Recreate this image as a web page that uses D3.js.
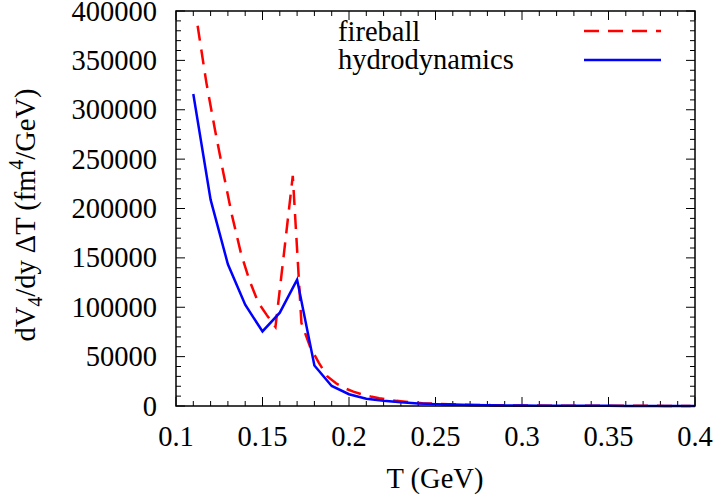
<!DOCTYPE html>
<html>
<head>
<meta charset="utf-8">
<script src="https://cdn.jsdelivr.net/npm/d3@7"></script>
<style>
body{margin:0;background:#fff}
text{font-family:"Liberation Serif","Times New Roman",serif;fill:#000}
</style>
</head>
<body>
<script>
// hydrodynamics: T every 0.01 GeV
var hydroT=[0.11,0.12,0.13,0.14,0.15,0.16,0.17,0.18,0.19,0.20,0.21,0.22,0.23,0.24,0.25,0.26,0.27,0.28,0.29,0.30,0.31,0.32,0.33,0.34,0.35,0.36,0.37,0.38,0.39,0.40]
var hydroV=[316000,209000,143500,102500,75500,94500,128000,41000,20300,11900,7400,5200,3700,2600,1900,1400,1050,800,600,460,360,280,220,180,150,120,100,85,70,60]

// fireball: T every 0.005 GeV
var fireT=[0.1125,0.1175,0.1225,0.1275,0.1325,0.1375,0.1425,0.1475,0.1525,0.1575,0.1625,0.1675,0.1725,0.1775,0.1825,0.1875,0.1925,0.1975,0.2025,0.2075,0.2125,0.2175,0.2225,0.2275,0.2325,0.2375,0.2425,0.2525,0.2625,0.2725,0.2825,0.2925,0.3025,0.3225,0.3425,0.3625,0.3825,0.3975]
var fireV=[385000,328000,280000,235000,192000,155000,127000,105000,92000,80000,156000,233000,84000,60000,44000,30000,23000,18000,14500,11800,9600,7800,6400,5200,4300,3500,2900,2100,1500,1100,850,650,500,320,220,160,120,100]

var xTicks=[0.1,0.15,0.2,0.25,0.3,0.35,0.4]
var yTicks=[0,50000,100000,150000,200000,250000,300000,350000,400000]

var W=719,H=496
var margin={top:11,right:24,bottom:90,left:176}
var w=W-margin.left-margin.right
var h=H-margin.top-margin.bottom
var fs=28.5

var svg=d3.select("body").append("svg")
  .attr("width",W).attr("height",H)
var g=svg.append("g").attr("transform","translate("+margin.left+","+margin.top+")")

var x=d3.scaleLinear().domain([0.1,0.4]).range([0,w])
var y=d3.scaleLinear().domain([0,400000]).range([h,0])

// minor + major ticks, drawn inward on all four sides
var xMinor=d3.range(0.1,0.4001,0.01)
var yMinor=d3.range(0,400001,10000)
var tk=g.append("g").attr("stroke","#000").attr("stroke-width",1)
xMinor.forEach(function(t){
  var major=Math.abs(Math.round(t*20)-t*20)<1e-6
  var len=major?9:5
  tk.append("line").attr("x1",x(t)).attr("x2",x(t)).attr("y1",h).attr("y2",h-len)
  tk.append("line").attr("x1",x(t)).attr("x2",x(t)).attr("y1",0).attr("y2",len)
})
yMinor.forEach(function(v){
  var len=(v%50000==0)?9:5
  tk.append("line").attr("x1",0).attr("x2",len).attr("y1",y(v)).attr("y2",y(v))
  tk.append("line").attr("x1",w).attr("x2",w-len).attr("y1",y(v)).attr("y2",y(v))
})

// tick labels
g.selectAll(".xl").data(xTicks).enter().append("text")
  .attr("x",function(d){return x(d)}).attr("y",h+40)
  .attr("text-anchor","middle").attr("font-size",fs)
  .text(function(d){return d})
g.selectAll(".yl").data(yTicks).enter().append("text")
  .attr("x",-19).attr("y",function(d){return y(d)+9.5})
  .attr("text-anchor","end").attr("font-size",fs)
  .text(function(d){return d})

// curves
var line=d3.line().x(function(d){return x(d[0])}).y(function(d){return y(d[1])})
g.append("path").datum(d3.zip(fireT,fireV))
  .attr("d",line).attr("fill","none").attr("stroke","#ff0000")
  .attr("stroke-width",2.5).attr("stroke-dasharray","15,9")
g.append("path").datum(d3.zip(hydroT,hydroV))
  .attr("d",line).attr("fill","none").attr("stroke","#0000ff")
  .attr("stroke-width",2.5)

// frame
g.append("rect").attr("width",w).attr("height",h)
  .attr("fill","none").attr("stroke","#000").attr("stroke-width",1.5)

// legend
var lg=svg.append("g")
lg.append("text").attr("x",338).attr("y",41).attr("font-size",fs).text("fireball")
lg.append("text").attr("x",338).attr("y",69).attr("font-size",fs).text("hydrodynamics")
lg.append("line").attr("x1",584).attr("x2",661).attr("y1",31).attr("y2",31)
  .attr("stroke","#ff0000").attr("stroke-width",2.5).attr("stroke-dasharray","15,9")
lg.append("line").attr("x1",584).attr("x2",661).attr("y1",60).attr("y2",60)
  .attr("stroke","#0000ff").attr("stroke-width",2.5)

// axis titles
svg.append("text").attr("x",435).attr("y",488).attr("text-anchor","middle")
  .attr("font-size",fs).text("T (GeV)")
var yt=svg.append("text").attr("transform","translate(35,215) rotate(-90)")
  .attr("text-anchor","middle").attr("font-size",fs)
yt.append("tspan").text("dV")
yt.append("tspan").attr("font-size",20).attr("dy",7).text("4")
yt.append("tspan").attr("dy",-7).text("/dy \u0394T (fm")
yt.append("tspan").attr("font-size",20).attr("dy",-12).text("4")
yt.append("tspan").attr("dy",12).text("/GeV)")
</script>
</body>
</html>
